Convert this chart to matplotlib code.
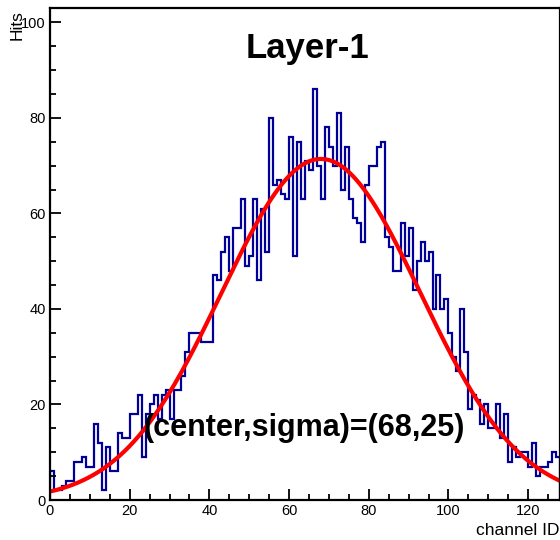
import numpy as np
import matplotlib
matplotlib.use("Agg")
import matplotlib.pyplot as plt
from matplotlib.ticker import MultipleLocator

plt.rcParams["font.family"] = ["Liberation Sans", "DejaVu Sans"]

# hits per channel (channels 0..127)
hits = [
    6, 2, 2, 3, 4, 4, 8, 8, 9, 7, 7, 16, 12, 2, 11, 6,
    6, 14, 13, 13, 18, 18, 22, 9, 18, 20, 22, 17, 22, 23, 17, 23, 23,
    26, 31, 35, 35, 35, 33, 33, 33, 47, 46,
    52, 55, 48, 57, 57, 63, 49, 51, 63, 46, 61, 52, 80,
    66, 67, 64,
    63, 76, 51, 75,
    63, 71, 69, 86, 70, 63, 78, 74, 70, 81, 65, 74, 63, 59, 58, 54,
    66, 70, 70, 74, 75, 55, 53, 48, 48, 58, 51, 57, 44, 50, 54, 50,
    52, 40, 47, 40, 42, 35, 30, 27, 40, 31,
    19, 22, 21, 16, 20, 15, 15, 20, 13, 18, 8, 11, 9, 10, 10, 7,
    12, 5, 7, 7, 8, 10, 9,
]
n_channels = len(hits)
edges = np.arange(n_channels + 1)

# gaussian fit result
fit_amp = 71.4
fit_center = 68
fit_sigma = 25

fig = plt.figure(figsize=(5.6, 5.4), dpi=100)
ax = fig.add_axes([50 / 560, 40 / 540, 510 / 560, 492 / 540])

ax.stairs(hits, edges, color="#000099", lw=1.6)

xf = np.linspace(0, n_channels, 400)
yf = fit_amp * np.exp(-0.5 * ((xf - fit_center) / fit_sigma) ** 2)
ax.plot(xf, yf, color="#ff0000", lw=3)

ax.set_xlim(0, n_channels)
ax.set_ylim(0, 103)
ax.xaxis.set_major_locator(MultipleLocator(20))
ax.xaxis.set_minor_locator(MultipleLocator(5))
ax.yaxis.set_major_locator(MultipleLocator(20))
ax.yaxis.set_minor_locator(MultipleLocator(5))
ax.tick_params(which="both", direction="in", top=False, right=False,
               labelsize=10.5, width=1.3)
ax.tick_params(which="major", length=8, pad=3)
ax.tick_params(which="minor", length=4)
for s in ax.spines.values():
    s.set_linewidth(1.6)

ax.text(64.6, 94.5, "Layer-1", ha="center", va="center",
        fontsize=25, fontweight="bold")
ax.text(23.4, 15.1, "(center,sigma)=(%d,%d)" % (fit_center, fit_sigma),
        ha="left", va="center", fontsize=22, fontweight="bold")

ax.text(1.0, -0.063, "channel ID", transform=ax.transAxes,
        ha="right", va="center", fontsize=12.5)
fig.text(17 / 560, 1 - 10 / 540, "Hits", rotation=90,
         ha="center", va="top", fontsize=12.5)

fig.savefig("out.png", dpi=100)
